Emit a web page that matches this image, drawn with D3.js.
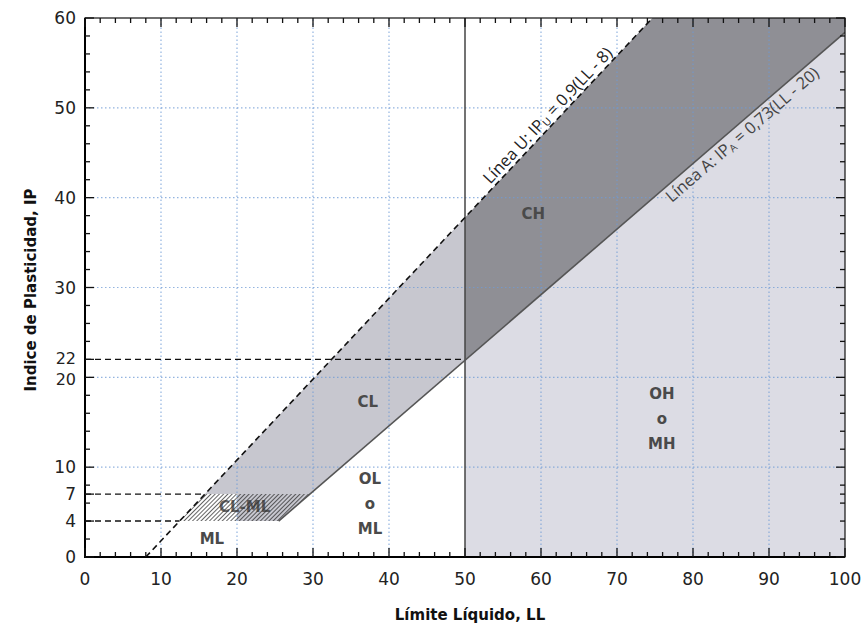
<!DOCTYPE html>
<html><head><meta charset="utf-8">
<script src="https://cdn.jsdelivr.net/npm/d3@7"></script>
<style>body{margin:0;background:#fff}svg{display:block}</style>
</head><body>
<svg id="c" width="865" height="627"></svg>
<script>
// ---- data ----
const xTickLabels = [0,10,20,30,40,50,60,70,80,90,100];
const yTickLabels = [0,4,7,10,20,22,30,40,50,60];
const gridX = [10,20,30,40,60,70,80,90];
const gridY = [10,20,30,40,50];
const lineU = {slope:0.9, offset:8};     // IP = 0.9(LL-8)
const lineA = {slope:0.73, offset:20};   // IP = 0.73(LL-20)
const llDivide = 50;
const ipLow = 4, ipHigh = 7, ipRef = 22;
const zoneLabels = [
  {lines:["CH"], ll:59.0, ip:38.2},
  {lines:["CL"], ll:37.2, ip:17.3},
  {lines:["OH","o","MH"], ll:75.9, ip:15.4},
  {lines:["OL","o","ML"], ll:37.5, ip:6.0},
  {lines:["ML"], ll:16.7, ip:2.1}
];
const hatchLabel = {text:"CL-ML", ll:21.0, ip:5.6};

// ---- layout ----
const svg = d3.select("#c");
const x = d3.scaleLinear().domain([0,100]).range([85,845]);
const y = d3.scaleLinear().domain([0,60]).range([557,18]);
const U = ll => lineU.slope*(ll-lineU.offset);
const A = ll => lineA.slope*(ll-lineA.offset);
const Uinv = ip => ip/lineU.slope + lineU.offset;
const Ainv = ip => ip/lineA.slope + lineA.offset;
const P = pts => d3.line().x(d=>x(d[0])).y(d=>y(d[1]))(pts) + "Z";

const defs = svg.append("defs");
const pat = defs.append("pattern").attr("id","hatch").attr("patternUnits","userSpaceOnUse")
  .attr("width",3).attr("height",3).attr("patternTransform","rotate(45)");
pat.append("line").attr("x1",0).attr("y1",0).attr("x2",0).attr("y2",3)
  .attr("stroke","#222").attr("stroke-width",1.4);
defs.append("clipPath").attr("id","plot").append("rect")
  .attr("x",x(0)).attr("y",y(60)).attr("width",x(100)-x(0)).attr("height",y(0)-y(60));
defs.append("clipPath").attr("id","right20").append("rect")
  .attr("x",x(20)).attr("y",y(60)).attr("width",x(100)-x(20)).attr("height",y(0)-y(60));

const g = svg.append("g").attr("clip-path","url(#plot)");

// regions
const topU = Uinv(60);
g.append("path").attr("d",P([[llDivide,0],[llDivide,A(llDivide)],[100,A(100)],[100,0]])).attr("fill","#dcdce4");
g.append("path").attr("d",P([[llDivide,A(llDivide)],[llDivide,U(llDivide)],[topU,60],[100,60],[100,A(100)]])).attr("fill","#8f8f95");
g.append("path").attr("d",P([[Uinv(ipHigh),ipHigh],[Ainv(ipHigh),ipHigh],[llDivide,A(llDivide)],[llDivide,U(llDivide)]])).attr("fill","#c7c7cf");
const hatchPoly = P([[Uinv(ipLow),ipLow],[Uinv(ipHigh),ipHigh],[Ainv(ipHigh),ipHigh],[Ainv(ipLow),ipLow]]);
g.append("path").attr("d",hatchPoly).attr("fill","#c7c7cf").attr("clip-path","url(#right20)");
g.append("path").attr("d",hatchPoly).attr("fill","url(#hatch)");

// grid
g.selectAll(".gx").data(gridX).join("line").attr("x1",d=>x(d)).attr("x2",d=>x(d))
  .attr("y1",y(0)).attr("y2",y(60)).attr("stroke","#6f9bd6").attr("stroke-width",1.2)
  .attr("stroke-dasharray","1.5,2.5").attr("opacity",0.75);
g.selectAll(".gy").data(gridY).join("line").attr("y1",d=>y(d)).attr("y2",d=>y(d))
  .attr("x1",x(0)).attr("x2",x(100)).attr("stroke","#6f9bd6").attr("stroke-width",1.2)
  .attr("stroke-dasharray","1.5,2.5").attr("opacity",0.75);

// lines
g.append("line").attr("x1",x(llDivide)).attr("x2",x(llDivide)).attr("y1",y(0)).attr("y2",y(60))
  .attr("stroke","#444").attr("stroke-width",1.5);
g.append("line").attr("x1",x(Ainv(ipLow))).attr("y1",y(ipLow)).attr("x2",x(100)).attr("y2",y(A(100)))
  .attr("stroke","#555").attr("stroke-width",1.6);
g.append("line").attr("x1",x(lineU.offset)).attr("y1",y(0)).attr("x2",x(topU)).attr("y2",y(60))
  .attr("stroke","#111").attr("stroke-width",1.6).attr("stroke-dasharray","6,4");
[[ipRef,llDivide],[ipHigh,Uinv(ipHigh)],[ipLow,Uinv(ipLow)]].forEach(([ip,ll])=>{
  g.append("line").attr("x1",x(0)).attr("x2",x(ll)).attr("y1",y(ip)).attr("y2",y(ip))
   .attr("stroke","#111").attr("stroke-width",1.4).attr("stroke-dasharray","6,4");
});

// zone labels
zoneLabels.forEach(z=>{
  const t = svg.append("text").attr("font-family","DejaVu Sans, Verdana, sans-serif")
    .attr("font-weight","bold").attr("font-size",15).attr("fill","#4a4a4a")
    .attr("text-anchor","middle");
  const n = z.lines.length;
  z.lines.forEach((s,i)=>{
    t.append("tspan").attr("x",x(z.ll)).attr("y",y(z.ip)+5.5+(i-(n-1)/2)*25).text(s);
  });
});
svg.append("text").attr("x",x(hatchLabel.ll)).attr("y",y(hatchLabel.ip)+5.5)
  .attr("font-family","DejaVu Sans, Verdana, sans-serif").attr("font-weight","bold")
  .attr("font-size",15).attr("fill","#333").attr("opacity",0.75).attr("text-anchor","middle").text(hatchLabel.text);

// line labels
function lineLabel(ll, f, slope, main, sub, rest, dy, color){
  const ang = -Math.atan(slope*(y(0)-y(1))/(x(1)-x(0)))*180/Math.PI;
  const t = svg.append("text").attr("transform",`translate(${x(ll)},${y(f(ll))}) rotate(${ang})`)
    .attr("font-family","Open Sans, Noto Sans, sans-serif").attr("font-size",16.5)
    .attr("fill",color).attr("text-anchor","middle").attr("y",dy);
  t.append("tspan").text(main);
  t.append("tspan").attr("font-size",10.5).attr("dy",2).text(sub);
  t.append("tspan").attr("dy",-2).text(rest);
}
lineLabel(61.8, U, lineU.slope, "Línea U: IP", "U", " = 0,9(LL - 8)", -4, "#222");
lineLabel(85.6, A, lineA.slope, "Línea A: IP", "A", " = 0,73(LL - 20)", 16, "#444");

// frame
svg.append("rect").attr("x",x(0)).attr("y",y(60)).attr("width",x(100)-x(0)).attr("height",y(0)-y(60))
  .attr("fill","none").attr("stroke","#111").attr("stroke-width",1.2);
svg.append("line").attr("x1",x(0)).attr("x2",x(0)).attr("y1",y(0)+1).attr("y2",y(60)).attr("stroke","#000").attr("stroke-width",2);
svg.append("line").attr("x1",x(0)).attr("x2",x(100)).attr("y1",y(0)).attr("y2",y(0)).attr("stroke","#000").attr("stroke-width",2);

// ticks
const xt = d3.range(0,101,2), yt = d3.range(0,61,2).concat([7]);
const tk = svg.append("g").attr("stroke","#111").attr("stroke-width",1.3);
xt.forEach(v=>{
  const L = v%10===0 ? 9 : 5;
  tk.append("line").attr("x1",x(v)).attr("x2",x(v)).attr("y1",y(0)).attr("y2",y(0)-L);
  tk.append("line").attr("x1",x(v)).attr("x2",x(v)).attr("y1",y(60)).attr("y2",y(60)+L);
});
yt.forEach(v=>{
  const L = yTickLabels.includes(v) ? 9 : 5;
  const R = v%10===0 ? 9 : 5;
  tk.append("line").attr("y1",y(v)).attr("y2",y(v)).attr("x1",x(0)).attr("x2",x(0)+L);
  tk.append("line").attr("y1",y(v)).attr("y2",y(v)).attr("x1",x(100)).attr("x2",x(100)-R);
});

// tick labels
const nudge = {22:-1.5, 20:1.5};
svg.selectAll(".xl").data(xTickLabels).join("text").attr("x",d=>x(d)).attr("y",y(0)+28)
  .attr("text-anchor","middle").attr("font-family","DejaVu Sans, Verdana, sans-serif")
  .attr("font-size",17).attr("fill","#222").text(d=>d);
svg.selectAll(".yl").data(yTickLabels).join("text").attr("x",x(0)-9).attr("y",d=>y(d)+6+(nudge[d]||0))
  .attr("text-anchor","end").attr("font-family","DejaVu Sans, Verdana, sans-serif")
  .attr("font-size",d=>(d===20||d===22)?16:17).attr("fill","#222").text(d=>d);

// axis titles
svg.append("text").attr("x",x(50)+5).attr("y",620).attr("text-anchor","middle")
  .attr("font-family","DejaVu Sans, Verdana, sans-serif").attr("font-weight","bold").attr("font-size",15)
  .attr("fill","#111").text("Límite Líquido, LL");
svg.append("text").attr("transform",`translate(36,290) rotate(-90)`).attr("text-anchor","middle")
  .attr("font-family","DejaVu Sans, Verdana, sans-serif").attr("font-weight","bold").attr("font-size",15)
  .attr("fill","#111").text("Indice de Plasticidad, IP");
</script>
</body></html>
